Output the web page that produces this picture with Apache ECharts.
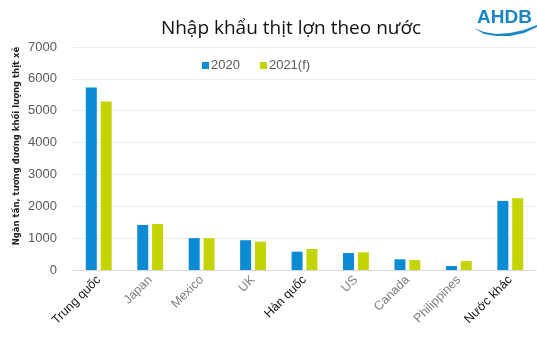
<!DOCTYPE html>
<html>
<head>
<meta charset="utf-8">
<script src="https://cdn.jsdelivr.net/npm/echarts@6/dist/echarts.min.js"></script>
<style>
html,body{margin:0;padding:0;background:#fff;}
#chart{width:537px;height:345px;}
</style>
</head>
<body>
<div id="chart"></div>
<script>
// Pork imports by country (thousand tonnes, carcase weight equivalent)
const countries = ['Trung quốc', 'Japan', 'Mexico', 'UK', 'Hàn quốc', 'US', 'Canada', 'Philippines', 'Nước khác'];
const imports2020 = [5730, 1415, 1000, 935, 575, 535, 335, 125, 2170];
const imports2021f = [5290, 1445, 1000, 890, 660, 555, 315, 280, 2255];
const seriesNames = ['2020', '2021(f)'];
const yTicks = [0, 1000, 2000, 3000, 4000, 5000, 6000, 7000];
const yTitle = 'Ngàn tấn, tương đương khối lượng thịt xẻ';

// Vietnamese labels are drawn in black, English ones in grey
const darkLabels = ['Trung quốc', 'Hàn quốc', 'Nước khác'];

const chart = echarts.init(document.getElementById('chart'));
chart.setOption({
  backgroundColor: '#fff',
  animation: false,
  title: {
    text: 'Nhập khẩu thịt lợn theo nước',
    left: 286, top: 14, textAlign: 'center',
    textStyle: { fontFamily: 'Open Sans', fontSize: 19, fontWeight: 'normal', color: '#111' }
  },
  legend: {
    data: seriesNames,
    left: 197, top: 54,
    itemWidth: 7, itemHeight: 7, itemGap: 20,
    icon: 'rect',
    textStyle: { fontFamily: 'Liberation Sans', fontSize: 13, color: '#595959', padding: [0, 0, 0, -3] }
  },
  grid: { left: 73, right: 1, top: 47, bottom: 75 },
  xAxis: {
    type: 'category',
    data: countries,
    axisLine: { lineStyle: { color: '#d9d9d9' } },
    axisTick: { show: false },
    axisLabel: {
      interval: 0, rotate: 45, margin: 8,
      fontFamily: 'Liberation Sans', fontSize: 12.5,
      formatter: v => darkLabels.includes(v) ? '{d|' + v + '}' : '{g|' + v + '}',
      rich: {
        d: { color: '#111', fontFamily: 'Liberation Sans', fontSize: 12.5 },
        g: { color: '#7f7f7f', fontFamily: 'Liberation Sans', fontSize: 12.5 }
      }
    }
  },
  yAxis: {
    type: 'value',
    min: yTicks[0], max: yTicks[yTicks.length - 1], interval: 1000,
    axisLine: { show: false },
    axisTick: { show: false },
    axisLabel: { fontFamily: 'Liberation Sans', fontSize: 13, color: '#595959', margin: 16, formatter: v => String(v) },
    splitLine: { lineStyle: { color: '#ececec' } }
  },
  series: [
    { name: seriesNames[0], type: 'bar', data: imports2020, barWidth: 11, barGap: '35%', itemStyle: { color: '#0b8bd4' } },
    { name: seriesNames[1], type: 'bar', data: imports2021f, barWidth: 11, itemStyle: { color: '#c3d400' } }
  ],
  graphic: [
    {
      // vertical unit title beside the value axis
      type: 'text', x: 17, y: 146, rotation: Math.PI / 2,
      style: {
        text: yTitle, fontFamily: 'DejaVu Sans', fontSize: 8.5, fontWeight: 'bold', fill: '#222',
        align: 'center', verticalAlign: 'middle'
      }
    },
    {
      type: 'text', x: 477, y: 8,
      style: { text: 'AHDB', fontFamily: 'Liberation Sans', fontSize: 19, fontWeight: 'bold', fill: '#1a86c8' }
    },
    {
      type: 'polygon',
      shape: { points: [[474, 28], [484, 32], [496, 34], [510, 33], [524, 30], [537, 25], [537, 27], [524, 33], [510, 36], [496, 36], [484, 34]] },
      style: { fill: '#1a86c8' }
    }
  ]
});
</script>
</body>
</html>
